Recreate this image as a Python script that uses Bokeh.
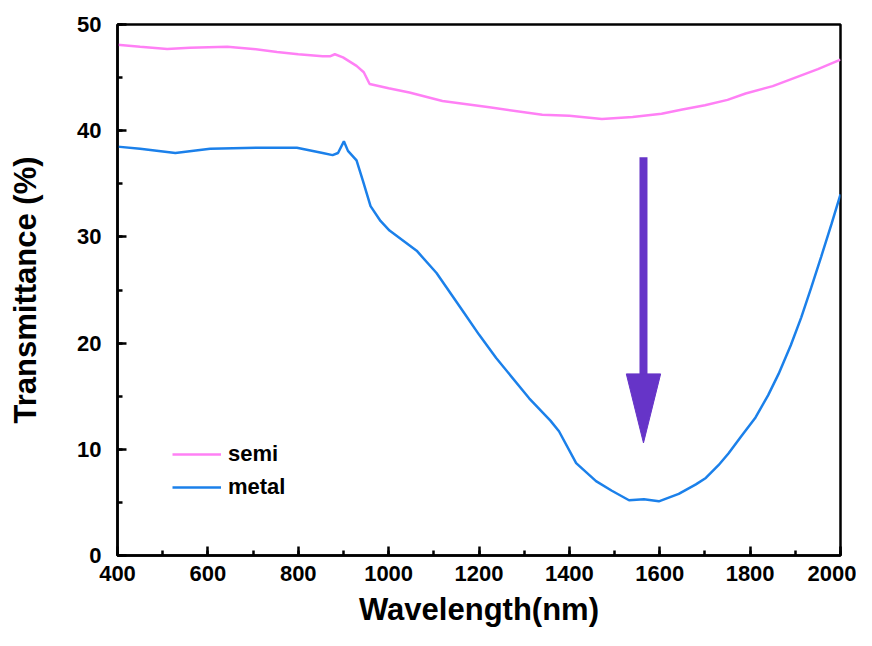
from bokeh.plotting import figure
from bokeh.models import Range1d, SingleIntervalTicker
from bokeh.embed import file_html
from bokeh.resources import INLINE

# ---- data ----
semi_wl = [400, 450, 510, 560, 643, 700, 753, 800, 854, 870, 881, 899, 929, 945, 958,
           1000, 1046, 1119, 1223, 1340, 1400, 1472, 1540, 1604, 1650, 1700, 1750, 1790,
           1850, 1900, 1950, 2000]
semi_T = [48.1, 47.9, 47.7, 47.8, 47.9, 47.7, 47.4, 47.2, 47.0, 47.0, 47.2, 46.9, 46.1, 45.5, 44.4,
          44.0, 43.6, 42.8, 42.2, 41.5, 41.4, 41.1, 41.3, 41.6, 42.0, 42.4, 42.9, 43.5,
          44.2, 45.0, 45.8, 46.7]

metal_wl = [400, 450, 528, 605, 715, 797, 854, 876, 888, 901, 910, 929, 943, 960, 982,
            1002, 1062, 1106, 1163, 1200, 1238, 1311, 1358, 1377, 1415, 1459, 1494, 1532,
            1565, 1598, 1642, 1680, 1702, 1730, 1752, 1780, 1812, 1840, 1863, 1890, 1913,
            1935, 1957, 1980, 2000]
metal_T = [38.5, 38.3, 37.9, 38.3, 38.4, 38.4, 37.9, 37.7, 37.9, 39.0, 38.1, 37.2, 35.3, 32.9, 31.5,
           30.6, 28.7, 26.6, 23.1, 20.8, 18.6, 14.8, 12.7, 11.7, 8.7, 7.0, 6.1, 5.2,
           5.3, 5.1, 5.8, 6.7, 7.3, 8.5, 9.6, 11.2, 13.0, 15.1, 17.1, 19.8, 22.4,
           25.2, 28.1, 31.2, 34.0]

series_labels = ["semi", "metal"]
series_colors = ["#FF80F5", "#1B80EA"]

# arrow annotation (data units)
arrow_x = 1564
arrow_top = 37.5
arrow_head_base = 17.1
arrow_tip = 10.6
arrow_half_width = 38
arrow_color = "#6634C8"

x_ticks_interval = 200
y_ticks_interval = 10

FONT = "Liberation Sans"

p = figure(width=856, height=630, output_backend="svg", toolbar_location=None,
           x_range=Range1d(400, 2000), y_range=Range1d(0, 50),
           min_border_left=117, min_border_right=16, min_border_top=24, min_border_bottom=75,
           background_fill_color="white", border_fill_color="white")

p.grid.visible = False
p.outline_line_color = "black"
p.outline_line_width = 2.5

p.xaxis.ticker = SingleIntervalTicker(interval=x_ticks_interval, num_minor_ticks=2)
p.yaxis.ticker = SingleIntervalTicker(interval=y_ticks_interval, num_minor_ticks=2)

for ax in (p.xaxis, p.yaxis):
    ax.axis_line_width = 2.5
    ax.axis_line_color = "black"
    ax.major_tick_in = 9
    ax.major_tick_out = 0
    ax.minor_tick_in = 5
    ax.minor_tick_out = 0
    ax.major_tick_line_width = 2.5
    ax.minor_tick_line_width = 2.5
    ax.major_label_text_font = FONT
    ax.major_label_text_font_style = "bold"
    ax.major_label_text_font_size = "22px"
    ax.major_label_text_color = "black"
    ax.axis_label_text_font = FONT
    ax.axis_label_text_font_style = "bold"
    ax.axis_label_text_font_size = "31px"
    ax.axis_label_text_color = "black"

p.xaxis.axis_label = "Wavelength(nm)"
p.yaxis.axis_label = "Transmittance (%)"
p.xaxis.major_label_standoff = 10
p.yaxis.major_label_standoff = 16
p.xaxis.axis_label_standoff = 8
p.yaxis.axis_label_standoff = 31

p.line(semi_wl, semi_T, line_color=series_colors[0], line_width=2.5, legend_label=series_labels[0])
p.line(metal_wl, metal_T, line_color=series_colors[1], line_width=2.5, legend_label=series_labels[1])

# arrow: shaft + head
p.segment(x0=[arrow_x], y0=[arrow_top], x1=[arrow_x], y1=[arrow_head_base],
          line_color=arrow_color, line_width=8)
p.patch([arrow_x - arrow_half_width, arrow_x + arrow_half_width, arrow_x],
        [arrow_head_base, arrow_head_base, arrow_tip],
        fill_color=arrow_color, line_color=arrow_color, line_width=1)

lg = p.legend[0]
lg.location = (55, 55)
lg.border_line_alpha = 0
lg.background_fill_alpha = 0
lg.padding = 0
lg.margin = 0
lg.spacing = 7
lg.glyph_width = 49
lg.glyph_height = 26
lg.label_height = 26
lg.label_standoff = 7
lg.label_text_font = FONT
lg.label_text_font_style = "bold"
lg.label_text_font_size = "22px"
lg.label_text_color = "black"

open("out.html", "w").write(file_html(p, INLINE))
